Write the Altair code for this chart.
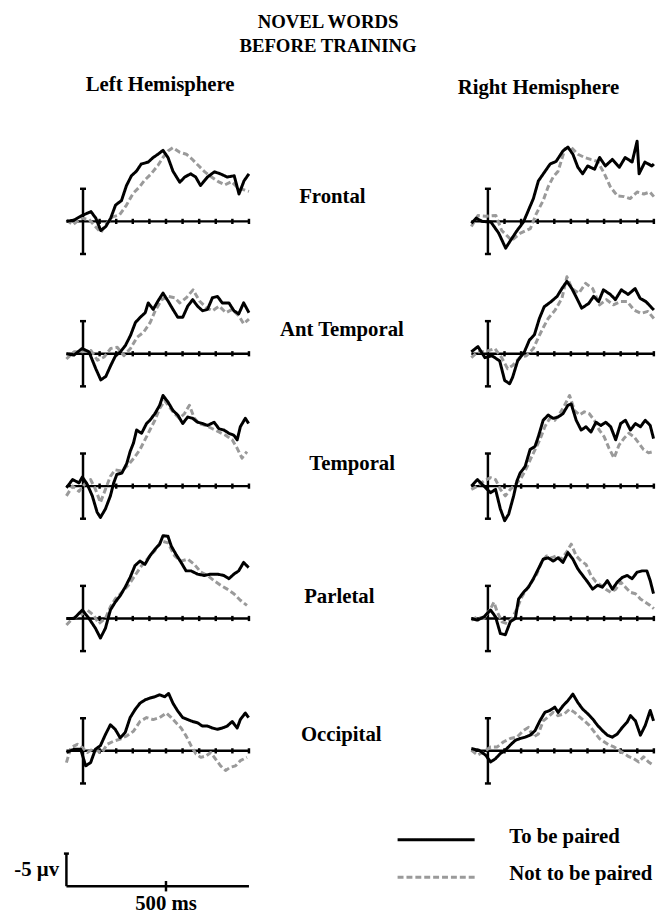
import altair as alt
import pandas as pd

SERIF = "Liberation Serif"

REGIONS = ["Frontal", "Ant Temporal", "Temporal", "Parletal", "Occipital"]
HEMIS = ["Left", "Right"]
CONDS = ["To be paired", "Not to be paired"]
BASE_TICKS_MS = [100, 200, 300, 400, 500, 600, 700, 800, 900, 1000]

# ---- waveforms (time in ms, amplitude in uV as drawn upward) ----
frontal_left_paired_t = [-100, -54, -6, 48, 77, 107, 137, 167, 196, 232, 262, 292, 322, 351, 393, 423, 452, 482, 512, 542, 583, 613, 649, 679, 708, 750, 792, 827, 869, 911, 940, 970, 1000]
frontal_left_paired_uv = [0, 0.2, 0.9, 1.5, 0.5, -1.4, -0.8, 0.5, 2.5, 3.2, 5.5, 7.0, 7.7, 8.8, 9.1, 9.8, 10.3, 10.9, 9.8, 7.7, 6.0, 6.8, 7.3, 6.8, 5.5, 6.8, 7.6, 7.3, 6.8, 7.0, 4.2, 6.2, 7.3]
frontal_left_unpaired_t = [-100, -60, -12, 36, 107, 143, 179, 220, 262, 302, 341, 371, 411, 452, 482, 512, 542, 583, 623, 655, 694, 734, 774, 815, 855, 895, 935, 976, 1000]
frontal_left_unpaired_uv = [0.2, -0.5, 0.5, 0.3, -1.7, -0.3, 0.7, 1.0, 2.5, 4.3, 5.3, 6.3, 7.3, 8.6, 9.8, 10.8, 11.3, 10.6, 10.3, 9.6, 8.6, 7.6, 6.8, 6.1, 5.6, 6.1, 5.1, 4.8, 4.6]

frontal_right_paired_t = [-100, -70, -35, 18, 65, 107, 137, 173, 214, 244, 274, 304, 345, 375, 411, 452, 482, 512, 542, 571, 601, 643, 673, 708, 750, 792, 827, 869, 899, 911, 946, 988, 1000]
frontal_right_paired_uv = [-0.3, 0.5, 0, -0.1, -1.8, -4.1, -2.9, -1.5, -0.1, 1.7, 3.5, 6.2, 7.7, 8.8, 9.2, 10.8, 11.4, 10.3, 8.3, 7.3, 8.5, 8.0, 9.8, 8.5, 9.5, 8.3, 9.8, 9.1, 12.3, 7.3, 9.1, 8.5, 8.8]
frontal_right_unpaired_t = [-100, -60, -12, 48, 83, 143, 196, 256, 292, 333, 363, 393, 423, 464, 500, 542, 583, 619, 661, 702, 738, 780, 821, 857, 899, 940, 976, 1000]
frontal_right_unpaired_uv = [-0.8, 0.9, 0.8, 0.9, -1.4, -2.9, -1.8, -1.1, 1.2, 3.2, 5.3, 6.8, 7.7, 11.1, 11.4, 10.3, 9.8, 9.5, 9.2, 7.3, 5.3, 3.9, 3.8, 3.5, 4.5, 4.2, 4.5, 3.8]

anttemp_left_paired_t = [-100, -54, -6, 36, 77, 107, 137, 167, 196, 226, 256, 286, 316, 345, 375, 393, 423, 452, 482, 512, 542, 571, 601, 631, 661, 690, 720, 750, 780, 810, 839, 879, 909, 938, 968, 1000]
anttemp_left_paired_uv = [0, -0.2, 0.8, 0.3, -2.3, -4.0, -3.5, -1.8, -0.3, 0.3, 1.3, 2.8, 4.8, 5.6, 6.3, 7.8, 6.8, 8.1, 9.3, 8.1, 6.8, 5.6, 5.6, 7.3, 8.3, 7.3, 6.6, 6.8, 8.6, 8.8, 7.8, 7.8, 6.6, 6.1, 7.8, 6.3]
anttemp_left_unpaired_t = [-100, -54, -6, 48, 87, 127, 167, 206, 246, 286, 325, 365, 405, 435, 474, 512, 552, 583, 623, 663, 702, 742, 780, 821, 861, 899, 940, 968, 1000]
anttemp_left_unpaired_uv = [-0.8, 0.3, 0.3, 0.5, -1.0, -0.5, 0.8, 1.0, -0.3, 0.8, 2.5, 3.3, 4.8, 6.6, 8.3, 8.8, 8.6, 7.8, 8.6, 9.8, 8.1, 7.1, 6.6, 7.3, 6.3, 6.8, 5.8, 4.6, 5.3]

anttemp_right_paired_t = [-100, -60, -18, 24, 71, 101, 131, 149, 179, 220, 250, 280, 310, 339, 381, 417, 446, 476, 506, 536, 565, 607, 637, 667, 696, 738, 768, 804, 845, 887, 917, 952, 982, 1000]
anttemp_right_paired_uv = [0.3, 1.1, -0.6, -0.3, -1.1, -4.1, -4.6, -3.6, -1.1, 0.3, 2.1, 2.9, 5.4, 7.2, 8.0, 8.8, 10.0, 11.1, 10.0, 8.5, 7.0, 7.7, 8.8, 8.0, 9.8, 9.1, 8.3, 9.8, 9.1, 10.0, 8.5, 8.0, 7.2, 6.7]
anttemp_right_unpaired_t = [-100, -60, -18, 42, 83, 119, 149, 190, 232, 274, 304, 333, 363, 405, 446, 476, 506, 548, 589, 631, 673, 714, 756, 798, 839, 881, 923, 964, 1000]
anttemp_right_unpaired_uv = [-0.6, 0.3, 0.3, 0.8, -0.6, -2.3, -1.8, -0.6, -0.3, 0.8, 2.5, 4.0, 5.4, 6.7, 8.5, 11.8, 10.0, 9.3, 10.8, 10.0, 7.5, 8.3, 7.5, 8.0, 8.0, 6.7, 6.2, 6.5, 5.4]

temporal_left_paired_t = [-100, -63, -24, -4, 26, 56, 85, 105, 135, 165, 185, 204, 234, 264, 284, 304, 323, 353, 383, 403, 433, 462, 482, 512, 542, 571, 601, 631, 661, 690, 720, 750, 790, 819, 849, 879, 909, 929, 948, 978, 998]
temporal_left_paired_uv = [-0.25, 1.0, 0.5, 1.4, 0.25, -1.5, -4.0, -4.8, -3.5, -1.5, 0.5, 1.8, 2.0, 3.5, 5.3, 6.6, 8.6, 8.1, 9.6, 10.1, 11.1, 12.4, 13.9, 12.9, 11.6, 10.9, 9.6, 10.6, 10.4, 9.8, 9.6, 9.3, 9.8, 8.8, 8.6, 8.1, 7.8, 7.1, 9.1, 10.4, 9.6]
temporal_left_unpaired_t = [-100, -63, -24, 16, 46, 75, 105, 135, 165, 194, 234, 274, 313, 343, 373, 403, 433, 462, 492, 522, 552, 581, 611, 641, 671, 700, 740, 780, 819, 859, 899, 929, 958, 988]
temporal_left_unpaired_uv = [-1.5, 0, -0.8, 0.5, 1.0, -0.5, -2.5, -0.5, 1.5, 2.5, 2.3, 3.3, 4.5, 5.6, 7.1, 8.6, 10.1, 11.9, 13.1, 12.1, 11.1, 10.4, 11.1, 12.4, 10.4, 9.6, 9.3, 8.8, 8.3, 7.8, 7.1, 5.8, 4.3, 5.3]

temporal_right_paired_t = [-100, -63, -24, 16, 46, 75, 101, 125, 155, 175, 194, 224, 254, 284, 304, 333, 363, 393, 423, 452, 482, 502, 532, 562, 591, 621, 651, 681, 710, 740, 770, 800, 829, 859, 889, 919, 948, 978, 998]
temporal_right_paired_uv = [0, 1.0, 0, -1.0, -0.5, -3.5, -5.3, -4.3, -1.5, 0.8, 2.0, 3.0, 5.6, 6.1, 7.6, 10.1, 10.9, 10.4, 10.6, 11.1, 12.4, 12.6, 10.1, 8.6, 9.1, 8.3, 9.8, 9.3, 9.8, 9.1, 7.1, 9.6, 10.1, 8.6, 9.6, 9.1, 10.1, 9.3, 7.3]
temporal_right_unpaired_t = [-100, -63, -24, 16, 46, 75, 105, 135, 165, 194, 224, 254, 284, 313, 343, 373, 403, 433, 462, 492, 522, 552, 581, 611, 641, 671, 700, 730, 760, 790, 819, 849, 879, 909, 938, 968, 998]
temporal_right_unpaired_uv = [-0.5, 0, 0.8, 1.3, 1.0, -0.5, -1.5, -0.5, 0.25, 1.0, 2.3, 4.0, 5.6, 7.1, 9.1, 10.4, 10.1, 11.1, 12.4, 13.9, 11.6, 10.9, 11.4, 11.1, 10.1, 8.6, 7.6, 5.8, 4.3, 6.3, 7.3, 8.1, 7.6, 6.6, 5.6, 5.1, 5.3]

parietal_left_paired_t = [-100, -54, -4, 36, 75, 105, 135, 165, 194, 224, 254, 284, 313, 343, 373, 403, 433, 462, 482, 512, 532, 561, 591, 621, 651, 690, 730, 770, 810, 849, 879, 909, 938, 968, 998]
parietal_left_paired_uv = [0, 0, 1.3, 0, -1.5, -3.0, -1.5, 1.3, 2.5, 3.5, 4.8, 6.3, 8.1, 8.8, 8.3, 9.6, 10.6, 11.4, 12.7, 12.6, 11.1, 9.8, 8.6, 7.3, 7.3, 6.8, 6.6, 6.8, 6.8, 6.6, 6.1, 6.8, 7.3, 8.6, 7.8]
parietal_left_unpaired_t = [-100, -63, -14, 26, 65, 95, 135, 165, 194, 234, 274, 313, 353, 393, 433, 472, 512, 552, 591, 631, 671, 710, 750, 790, 829, 869, 909, 948, 988]
parietal_left_unpaired_uv = [-1.0, 0, 0.5, 1.3, 0.5, -0.8, 0, 1.8, 3.0, 4.0, 5.1, 6.6, 8.1, 9.3, 10.4, 11.9, 11.6, 9.6, 8.8, 9.1, 8.3, 7.1, 6.6, 5.8, 5.1, 4.5, 3.8, 2.8, 2.0]

parietal_right_paired_t = [-100, -63, -24, 16, 46, 75, 105, 135, 165, 185, 214, 244, 274, 304, 333, 363, 393, 423, 452, 482, 512, 542, 571, 601, 631, 661, 690, 720, 750, 780, 810, 839, 869, 899, 929, 958, 978, 998]
parietal_right_paired_uv = [0, -0.25, 0.25, 1.3, 0.25, -2.3, -2.5, -0.5, 0, 3.0, 4.0, 4.8, 6.1, 7.6, 9.1, 9.3, 8.8, 9.3, 8.6, 10.1, 9.1, 7.6, 6.6, 5.6, 4.5, 5.1, 4.8, 5.8, 4.5, 5.6, 6.3, 6.6, 6.1, 7.1, 7.3, 7.3, 5.8, 3.8]
parietal_right_unpaired_t = [-100, -63, -24, 16, 36, 56, 85, 115, 145, 175, 204, 234, 264, 294, 323, 353, 383, 413, 442, 472, 502, 532, 562, 591, 621, 651, 681, 710, 740, 770, 800, 829, 859, 889, 919, 948, 978, 1000]
parietal_right_unpaired_uv = [-0.25, 0.25, 0, 1.5, 2.5, 1.0, -0.5, -0.8, 0, 1.5, 3.3, 4.5, 5.6, 6.8, 8.6, 9.6, 9.3, 9.6, 9.1, 10.1, 11.4, 9.6, 8.8, 8.3, 6.6, 5.6, 5.1, 4.5, 4.0, 4.5, 5.6, 4.8, 4.0, 3.8, 3.0, 2.5, 2.0, 1.5]

occipital_left_paired_t = [-100, -54, -14, 16, 46, 75, 105, 135, 165, 194, 224, 254, 284, 313, 343, 373, 403, 433, 462, 492, 516, 542, 571, 601, 631, 661, 690, 720, 750, 780, 810, 839, 869, 899, 929, 948, 978, 998]
occipital_left_paired_uv = [-0.25, 0.25, 0.25, -2.3, -1.8, 0.25, 0.8, 2.5, 4.0, 3.3, 2.0, 2.8, 5.1, 6.3, 7.3, 7.8, 8.1, 8.3, 8.6, 8.3, 8.8, 7.3, 6.1, 5.1, 4.8, 4.5, 4.3, 3.8, 3.8, 3.5, 3.3, 3.5, 3.8, 4.5, 3.5, 4.8, 5.8, 5.1]
occipital_left_unpaired_t = [-100, -73, -34, -4, 26, 56, 85, 115, 145, 185, 224, 264, 304, 343, 383, 423, 462, 502, 532, 561, 591, 621, 651, 681, 710, 740, 770, 800, 829, 859, 889, 919, 948, 988]
occipital_left_unpaired_uv = [-1.8, 0.5, 1.0, 0.5, -0.25, 0.25, 0, -0.25, 1.0, 1.5, 1.8, 2.3, 3.0, 4.5, 5.1, 4.8, 5.1, 5.8, 5.1, 4.3, 3.5, 2.3, 0.8, -0.5, -1.0, -0.8, -0.25, -1.3, -2.3, -3.0, -2.5, -2.3, -1.5, -1.0]

occipital_right_paired_t = [-100, -54, -14, 16, 46, 75, 105, 135, 165, 194, 224, 254, 284, 313, 343, 373, 403, 423, 452, 482, 512, 542, 571, 601, 631, 661, 690, 720, 750, 780, 810, 839, 859, 889, 919, 948, 978, 998]
occipital_right_paired_uv = [0.35, 0.1, -0.65, -1.7, -1.2, -0.4, 0.1, 0.9, 1.6, 1.9, 2.1, 2.4, 3.1, 4.6, 5.9, 6.2, 6.7, 5.9, 6.9, 7.7, 8.7, 7.4, 6.4, 5.7, 4.9, 3.9, 3.1, 2.4, 2.1, 2.6, 3.6, 4.4, 5.4, 4.6, 2.4, 3.9, 6.2, 4.6]
occipital_right_unpaired_t = [-100, -63, -24, 16, 56, 95, 135, 175, 214, 244, 274, 304, 333, 363, 393, 423, 462, 492, 522, 552, 581, 611, 641, 671, 700, 730, 760, 790, 819, 849, 879, 909, 938, 968, 998]
occipital_right_unpaired_uv = [0.1, -0.65, -0.15, 0.6, 0.6, 1.4, 1.9, 2.1, 3.1, 3.6, 2.1, 2.6, 4.6, 5.2, 5.9, 5.4, 5.7, 6.4, 5.9, 5.2, 4.6, 3.9, 2.9, 1.9, 1.4, 0.9, 0.6, 0.1, -0.4, -0.9, -1.2, -1.7, -0.9, -1.7, -2.2]

SERIES = [
    ("Frontal", "Left", frontal_left_paired_t, frontal_left_paired_uv, frontal_left_unpaired_t, frontal_left_unpaired_uv),
    ("Frontal", "Right", frontal_right_paired_t, frontal_right_paired_uv, frontal_right_unpaired_t, frontal_right_unpaired_uv),
    ("Ant Temporal", "Left", anttemp_left_paired_t, anttemp_left_paired_uv, anttemp_left_unpaired_t, anttemp_left_unpaired_uv),
    ("Ant Temporal", "Right", anttemp_right_paired_t, anttemp_right_paired_uv, anttemp_right_unpaired_t, anttemp_right_unpaired_uv),
    ("Temporal", "Left", temporal_left_paired_t, temporal_left_paired_uv, temporal_left_unpaired_t, temporal_left_unpaired_uv),
    ("Temporal", "Right", temporal_right_paired_t, temporal_right_paired_uv, temporal_right_unpaired_t, temporal_right_unpaired_uv),
    ("Parletal", "Left", parietal_left_paired_t, parietal_left_paired_uv, parietal_left_unpaired_t, parietal_left_unpaired_uv),
    ("Parletal", "Right", parietal_right_paired_t, parietal_right_paired_uv, parietal_right_unpaired_t, parietal_right_unpaired_uv),
    ("Occipital", "Left", occipital_left_paired_t, occipital_left_paired_uv, occipital_left_unpaired_t, occipital_left_unpaired_uv),
    ("Occipital", "Right", occipital_right_paired_t, occipital_right_paired_uv, occipital_right_unpaired_t, occipital_right_unpaired_uv),
]

rows = []
for region, hemi, pt, pv, ut, uv in SERIES:
    for t, v in zip(pt, pv):
        rows.append({"region": region, "hemi": hemi, "cond": CONDS[0], "t": t, "uv": v})
    for t, v in zip(ut, uv):
        rows.append({"region": region, "hemi": hemi, "cond": CONDS[1], "t": t, "uv": v})
waves = pd.DataFrame(rows)

# ---- layout constants (styles, not data) ----
PX_PER_MS = 0.168
LEFT_DOM = [-452, 1010]
RIGHT_DOM = [-130, 1010]
Y_DOM = [-6.0, 14.3]
ROW_H = 134
LABEL_W = 217.6
HEADER_H = 115.6
BOTTOM_H = 112
BOTTOM_DOM = [-2.21, 14.76]
LEFT_W = (LEFT_DOM[1] - LEFT_DOM[0]) * PX_PER_MS
LEGEND_W = 654.7 - LEFT_W

COLOR = alt.Color("cond:N", scale=alt.Scale(domain=CONDS, range=["#000000", "#9a9a9a"]), legend=None)
DASH = alt.StrokeDash("cond:N", scale=alt.Scale(domain=CONDS, range=[[1, 0], [6, 3]]), legend=None)


def xq(field, dom):
    return alt.X(field, type="quantitative", scale=alt.Scale(domain=dom, nice=False, zero=False), axis=None)


def yq(field, dom):
    return alt.Y(field, type="quantitative", scale=alt.Scale(domain=dom, nice=False, zero=False), axis=None)


def erp_panel(region, hemi, dom):
    width = (dom[1] - dom[0]) * PX_PER_MS
    axis_line = alt.Chart(pd.DataFrame({"t": [-100], "t_end": [1000], "uv": [0]})).mark_rule(
        color="black", strokeWidth=2.5).encode(x=xq("t", dom), x2="t_end", y=yq("uv", Y_DOM))
    ticks = alt.Chart(pd.DataFrame({"t": BASE_TICKS_MS, "lo": [-0.4] * len(BASE_TICKS_MS), "hi": [0.4] * len(BASE_TICKS_MS)})).mark_rule(
        color="black", strokeWidth=2.5).encode(x=xq("t", dom), y=yq("lo", Y_DOM), y2="hi")
    bar = alt.Chart(pd.DataFrame({"t": [0], "lo": [-5], "hi": [5]})).mark_rule(
        color="black", strokeWidth=2.5).encode(x=xq("t", dom), y=yq("lo", Y_DOM), y2="hi")
    caps = alt.Chart(pd.DataFrame({"t": [-18, -18], "t_end": [18, 18], "uv": [-5, 5]})).mark_rule(
        color="black", strokeWidth=2.5).encode(x=xq("t", dom), x2="t_end", y=yq("uv", Y_DOM))
    sub = waves[(waves["region"] == region) & (waves["hemi"] == hemi)]
    layers = [axis_line, ticks, bar, caps]
    for cond in [CONDS[1], CONDS[0]]:
        layers.append(
            alt.Chart(sub[sub["cond"] == cond]).mark_line(strokeWidth=3.0, strokeJoin="round").encode(
                x=xq("t", dom), y=yq("uv", Y_DOM), color=COLOR, strokeDash=DASH, order="t:Q")
        )
    return alt.layer(*layers).properties(width=width, height=ROW_H)


def text_layer(text, x, y, size=21, align="center"):
    return alt.Chart(pd.DataFrame({"label": [text]})).mark_text(
        font=SERIF, fontWeight="bold", fontSize=size, color="black", align=align, baseline="middle"
    ).encode(text="label:N", x=alt.value(x), y=alt.value(y))


LABEL_POS = {
    "Frontal": (82.4, 69.4),
    "Ant Temporal": (92.0, 70.0),
    "Temporal": (102.4, 72.0),
    "Parletal": (89.4, 73.0),
    "Occipital": (91.4, 78.0),
}

header = alt.layer(
    text_layer("NOVEL WORDS", 324, 9, size=19),
    text_layer("BEFORE TRAINING", 324, 33, size=19),
    text_layer("Left Hemisphere", 154, 72),
    text_layer("Right Hemisphere", 537, 75),
).properties(width=654.7, height=HEADER_H)

row_charts = []
for region in REGIONS:
    lx, ly = LABEL_POS[region]
    label = text_layer(region, lx, ly).properties(width=LABEL_W, height=ROW_H)
    row_charts.append(
        alt.hconcat(erp_panel(region, "Left", LEFT_DOM), label, erp_panel(region, "Right", RIGHT_DOM),
                    spacing=0, bounds="flush").resolve_scale(x="independent", y="independent")
    )

# calibration bar (same time / amplitude scale as the panels)
sb_h = alt.Chart(pd.DataFrame({"t": [-100], "t_end": [1000], "uv": [0]})).mark_rule(
    color="black", strokeWidth=2.5).encode(x=xq("t", LEFT_DOM), x2="t_end", y=yq("uv", BOTTOM_DOM))
sb_v = alt.Chart(pd.DataFrame({"t": [-100], "lo": [0], "hi": [5]})).mark_rule(
    color="black", strokeWidth=2.5).encode(x=xq("t", LEFT_DOM), y=yq("lo", BOTTOM_DOM), y2="hi")
sb_cap = alt.Chart(pd.DataFrame({"t": [-115], "t_end": [-85], "uv": [5]})).mark_rule(
    color="black", strokeWidth=2.5).encode(x=xq("t", LEFT_DOM), x2="t_end", y=yq("uv", BOTTOM_DOM))
sb_tick = alt.Chart(pd.DataFrame({"t": [500], "lo": [-0.8], "hi": [0.8]})).mark_rule(
    color="black", strokeWidth=2.5).encode(x=xq("t", LEFT_DOM), y=yq("lo", BOTTOM_DOM), y2="hi")
sb_ms = alt.Chart(pd.DataFrame({"t": [500], "label": ["500 ms"]})).mark_text(
    font=SERIF, fontWeight="bold", fontSize=21, color="black", baseline="middle"
).encode(x=xq("t", LEFT_DOM), y=alt.value(115.5), text="label:N")
sb_uv = text_layer("-5 \u00b5v", 29, 81)
scalebar = alt.layer(sb_h, sb_v, sb_cap, sb_tick, sb_ms, sb_uv).properties(width=LEFT_W, height=BOTTOM_H)

# legend: line samples and labels placed through a point row scale
legend_df = pd.DataFrame({"cond": CONDS})
LEG_Y = alt.Y("cond:N", scale=alt.Scale(type="point", domain=CONDS, range=[50.4, 88.4], padding=0), axis=None)
leg_lines = alt.Chart(legend_df).mark_rule(strokeWidth=3).encode(
    y=LEG_Y, x=alt.value(148.4), x2=alt.value(226.4), color=COLOR, strokeDash=DASH)
leg_text = alt.Chart(legend_df).mark_text(
    font=SERIF, fontWeight="bold", fontSize=21, color="black", align="left", baseline="middle", dy=-3
).encode(y=LEG_Y, x=alt.value(261.4), text="cond:N")
legend = alt.layer(leg_lines, leg_text).properties(width=LEGEND_W, height=BOTTOM_H)

bottom = alt.hconcat(scalebar, legend, spacing=0, bounds="flush").resolve_scale(
    x="independent", y="independent")

chart = alt.vconcat(header, *row_charts, bottom, spacing=0).resolve_scale(
    x="independent", y="independent", color="shared", strokeDash="shared"
).properties(padding=0).configure_view(stroke=None)

chart.save("out.html", embed_options={"renderer": "svg", "actions": False})
